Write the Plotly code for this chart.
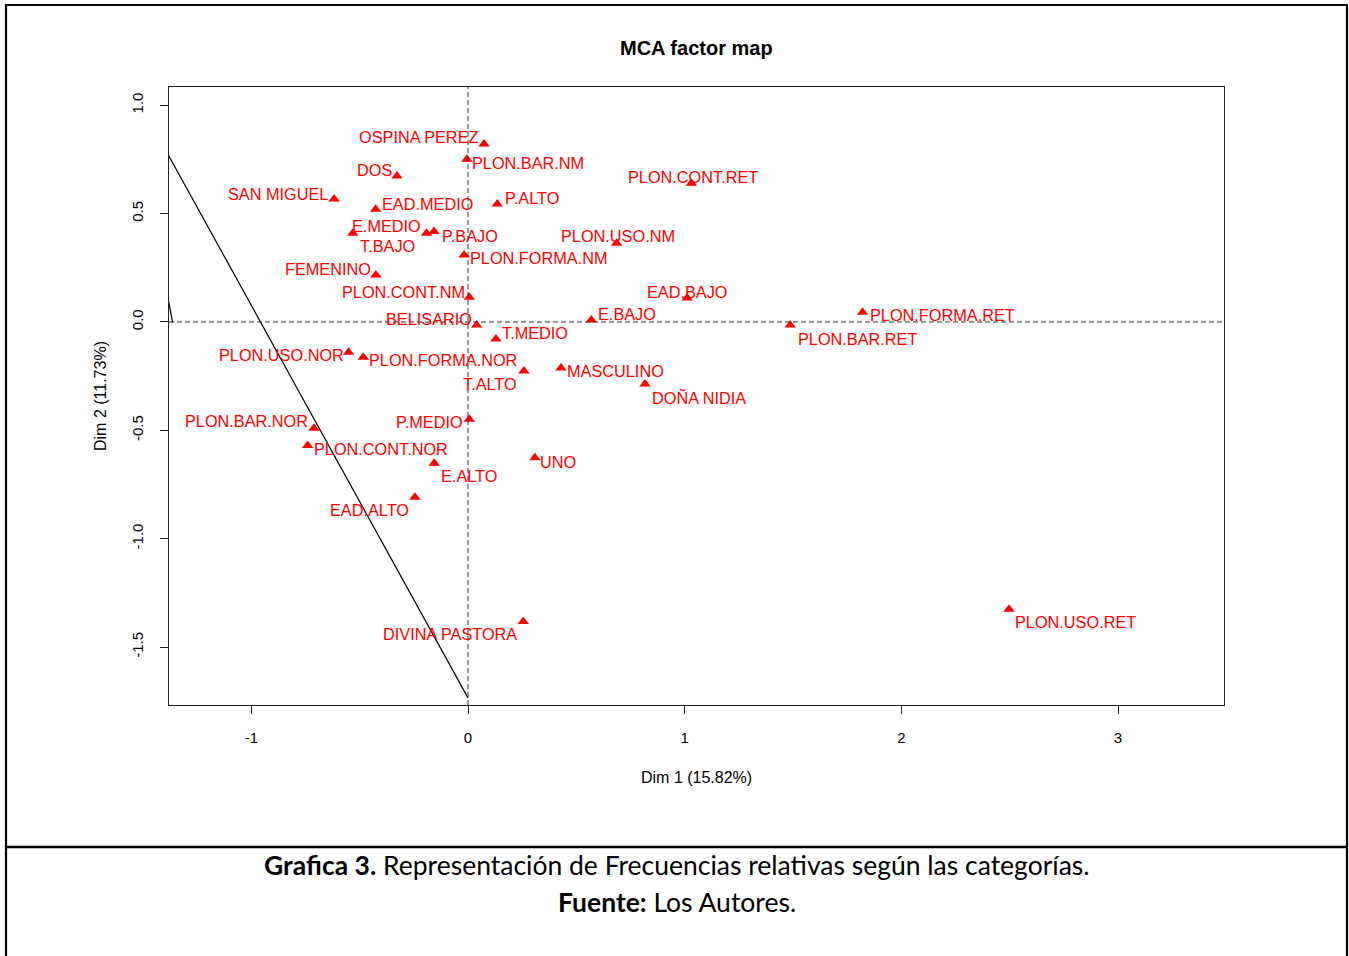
import plotly.graph_objects as go

# ---------------- data ----------------
categories = ["OSPINA PEREZ", "PLON.BAR.NM", "DOS", "PLON.CONT.RET", "SAN MIGUEL",
              "EAD.MEDIO", "P.ALTO", "E.MEDIO", "T.BAJO", "P.BAJO", "PLON.USO.NM",
              "PLON.FORMA.NM", "FEMENINO", "PLON.CONT.NM", "EAD.BAJO", "BELISARIO",
              "E.BAJO", "T.MEDIO", "PLON.FORMA.RET", "PLON.BAR.RET", "PLON.USO.NOR",
              "PLON.FORMA.NOR", "MASCULINO", "T.ALTO", "DOÑA NIDIA", "P.MEDIO",
              "PLON.BAR.NOR", "PLON.CONT.NOR", "UNO", "E.ALTO", "EAD.ALTO",
              "DIVINA PASTORA", "PLON.USO.RET"]
dim1 = [0.074, -0.005, -0.328, 1.031, -0.618, -0.426, 0.135, -0.532, -0.191, -0.157,
        0.686, -0.018, -0.425, 0.006, 1.011, 0.040, 0.569, 0.129, 1.821, 1.487,
        -0.551, -0.483, 0.429, 0.258, 0.817, 0.006, -0.711, -0.740, 0.309, -0.156,
        -0.245, 0.255, 2.497]
dim2 = [0.821, 0.751, 0.673, 0.640, 0.567, 0.520, 0.544, 0.409, 0.409, 0.417,
        0.363, 0.309, 0.217, 0.114, 0.111, -0.014, 0.009, -0.078, 0.045, -0.014,
        -0.140, -0.163, -0.212, -0.226, -0.286, -0.449, -0.490, -0.570, -0.626, -0.652,
        -0.809, -1.382, -1.325]

# hand-drawn reference lines (data coordinates)
line1_x = [-1.383, 0.0]
line1_y = [0.770, -1.734]
line2_x = [-1.383, -1.363]
line2_y = [0.101, -0.003]

x_ticks = [-1, 0, 1, 2, 3]
x_ticktext = ["-1", "0", "1", "2", "3"]
y_ticks = [-1.5, -1.0, -0.5, 0.0, 0.5, 1.0]
y_ticktext = ["-1.5", "-1.0", "-0.5", "0.0", "0.5", "1.0"]

title_text = "MCA factor map"
xlab = "Dim 1 (15.82%)"
ylab = "Dim 2 (11.73%)"
caption1 = "<b>Grafica 3.</b> Representación de Frecuencias relativas según las categorías."
caption2 = "<b>Fuente:</b> Los Autores."

# ---------------- label placement (pixel offsets, styling) ----------------
label_dx = [-65.5, 61.5, -22.5, 1.5, -56.5, 52, 35, 34, -39.5, 35.5, 1, 75, -47.5, -66,
            0.5, -48, 35.5, 39, 79.5, 67, -67, 80, 54.5, -34, 53.5, -39.5, -67, 73, 23.5,
            35, -45, -73.5, 66.5]
label_dy = [-7, 4, -6, -6, -5, -5, -6, -7, 13, 4, -7, 3, -6, -5, -6, -6, -6, -6, 3, 14,
            3, 3, 3, 13, 14, 3, -7, 3, 4, 13, 13, 12, 13]

W, H = 1349, 956
L, R, T, B = 169, 1224, 87, 705
pw, ph = R - L, B - T


def px_x(p):
    return (p - L) / pw


def px_y(p):
    return (B - p) / ph


RED = "#FF0000"
AX_FONT = "Liberation Sans, Arial, Helvetica, sans-serif"

fig = go.Figure()

fig.add_trace(go.Scatter(x=line1_x, y=line1_y, mode="lines",
                         line=dict(color="black", width=1.2), hoverinfo="skip"))
fig.add_trace(go.Scatter(x=line2_x, y=line2_y, mode="lines",
                         line=dict(color="black", width=1.2), hoverinfo="skip"))

fig.add_trace(go.Scatter(x=dim1, y=dim2, mode="markers", text=categories,
                         marker=dict(symbol="triangle-up", size=10, color=RED,
                                     line=dict(width=0))))

fig.add_hline(y=0, line=dict(color="#333333", width=1, dash="5px,3px"))
fig.add_vline(x=0, line=dict(color="#333333", width=1, dash="5px,3px"))

annotations = []
for name, xv, yv, dx, dy in zip(categories, dim1, dim2, label_dx, label_dy):
    annotations.append(dict(x=xv, y=yv, xref="x", yref="y", text=name, showarrow=False,
                            xanchor="center", yanchor="middle", xshift=dx, yshift=-dy,
                            font=dict(family=AX_FONT, size=16.3, color=RED)))

annotations += [
    dict(x=0.5, y=px_y(48), xref="paper", yref="paper", text="<b>" + title_text + "</b>",
         showarrow=False, xanchor="center", yanchor="middle",
         font=dict(family=AX_FONT, size=20, color="black")),
    dict(x=0.5, y=px_y(777), xref="paper", yref="paper", text=xlab, showarrow=False,
         xanchor="center", yanchor="middle", font=dict(family=AX_FONT, size=16, color="black")),
    dict(x=px_x(100), y=0.5, xref="paper", yref="paper", text=ylab, showarrow=False,
         textangle=-90, xanchor="center", yanchor="middle",
         font=dict(family=AX_FONT, size=16, color="black")),
    dict(x=px_x(676.5), y=px_y(865), xref="paper", yref="paper", text=caption1, showarrow=False,
         xanchor="center", yanchor="middle", font=dict(family="Lato, sans-serif", size=26.5, color="black")),
    dict(x=px_x(676.5), y=px_y(902), xref="paper", yref="paper", text=caption2, showarrow=False,
         xanchor="center", yanchor="middle", font=dict(family="Lato, sans-serif", size=26.5, color="black")),
]

shapes = [
    dict(type="rect", xref="paper", yref="paper", x0=px_x(6), x1=px_x(1347),
         y0=px_y(990), y1=px_y(5), line=dict(color="black", width=2.2), fillcolor="rgba(0,0,0,0)",
         layer="above"),
    dict(type="line", xref="paper", yref="paper", x0=px_x(6), x1=px_x(1347),
         y0=px_y(847), y1=px_y(847), line=dict(color="black", width=2.6), layer="above"),
]

fig.update_layout(
    width=W, height=H, autosize=False,
    margin=dict(l=L, r=W - R, t=T, b=H - B, pad=0),
    paper_bgcolor="white", plot_bgcolor="white",
    showlegend=False,
    annotations=annotations,
    shapes=list(fig.layout.shapes) + shapes,
    xaxis=dict(range=[-1.380, 3.489], tickvals=x_ticks, ticktext=x_ticktext,
               showgrid=False, zeroline=False, showline=True, mirror=True,
               linecolor="#222222", linewidth=1, ticks="outside", ticklen=8,
               tickcolor="#222222", tickfont=dict(family=AX_FONT, size=15, color="black"),
               ticklabelstandoff=11),
    yaxis=dict(range=[-1.767, 1.084], tickvals=y_ticks, ticktext=y_ticktext,
               showgrid=False, zeroline=False, showline=True, mirror=True,
               linecolor="#222222", linewidth=1, ticks="outside", ticklen=8,
               tickcolor="#222222", tickangle=-90,
               tickfont=dict(family=AX_FONT, size=15, color="black"),
               ticklabelstandoff=11),
)

fig.write_html("out.html", config={"displayModeBar": False},
               post_script="document.body.style.margin='0';document.body.style.overflow='hidden';")
